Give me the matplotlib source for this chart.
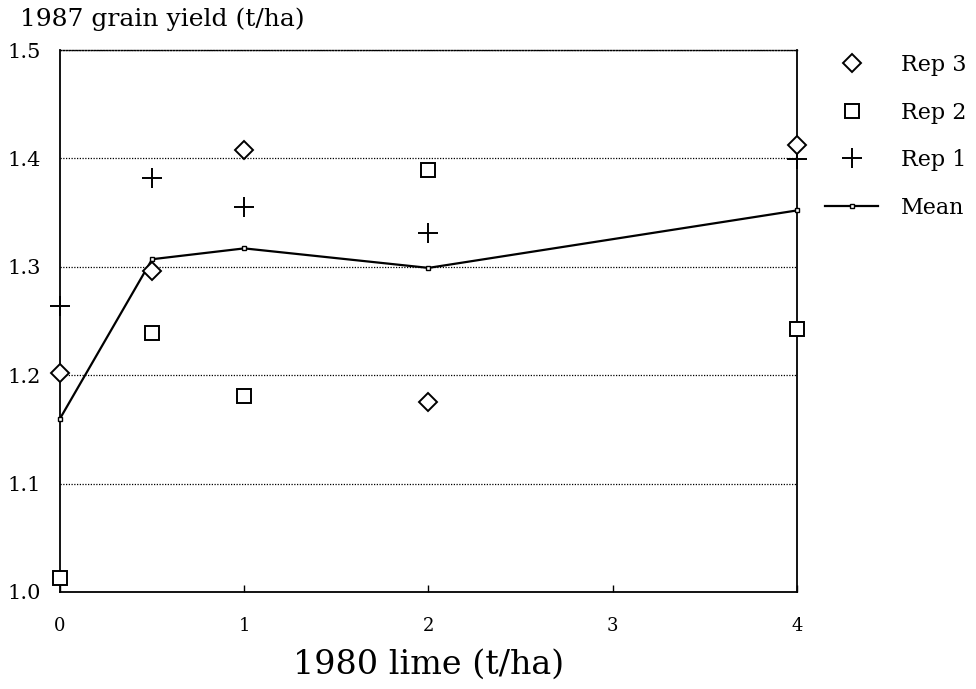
import matplotlib.pyplot as plt

lime = [0, 0.5, 1, 2, 4]
rep3 = [1.202, 1.296, 1.408, 1.175, 1.412]
rep2 = [1.013, 1.239, 1.181, 1.389, 1.243]
rep1 = [1.264, 1.382, 1.355, 1.331, 1.399]
mean = [1.160, 1.307, 1.317, 1.299, 1.352]

yticks = [1.0, 1.1, 1.2, 1.3, 1.4, 1.5]
xticks = [0, 1, 2, 3, 4]

plt.rcParams['font.family'] = ['DejaVu Serif']

fig = plt.figure(figsize=(9.76, 6.89), dpi=100)
ax = fig.add_axes([0.0615, 0.1408, 0.755, 0.7866])

# grid lines (dotted, like the scanned figure)
for y in yticks[1:]:
    ax.axhline(y, color='black', lw=0.9, ls=(0, (1, 1.2)), zorder=1)

ax.plot(lime, mean, color='black', lw=1.6, marker='s', ms=3,
        mfc='white', mec='black', mew=1, zorder=3, label='Mean', clip_on=False)
ax.plot(lime, rep1, ls='none', marker='+', ms=15, mew=1.4, color='black',
        zorder=4, label='Rep 1', clip_on=False)
ax.plot(lime, rep2, ls='none', marker='s', ms=10, mfc='white', mec='black',
        mew=1.4, zorder=4, label='Rep 2', clip_on=False)
ax.plot(lime, rep3, ls='none', marker='D', ms=9.5, mfc='white', mec='black',
        mew=1.4, zorder=4, label='Rep 3', clip_on=False)

ax.set_xlim(0, 4)
ax.set_ylim(1.0, 1.5)
ax.set_xticks(xticks)
ax.set_yticks(yticks)
ax.set_yticklabels([f'{v:.1f}' for v in yticks])
ax.tick_params(axis='x', direction='in', length=5, width=1, labelsize=13, pad=18)
ax.tick_params(axis='y', length=0, labelsize=15, pad=14)

for s in ['left', 'right', 'bottom']:
    ax.spines[s].set_linewidth(1.3)
ax.spines['top'].set_linestyle((0, (1, 1.2)))
ax.spines['top'].set_linewidth(1.0)

ax.set_xlabel('1980 lime (t/ha)', fontsize=24, labelpad=10)
fig.text(0.021, 0.972, '1987 grain yield (t/ha)', fontsize=18, va='center', ha='left')

h, l = ax.get_legend_handles_labels()
order = [3, 2, 1, 0]
fig.legend([h[i] for i in order], [l[i] for i in order], loc='upper left',
           bbox_to_anchor=(825 / 976, 1 - 54 / 689), frameon=False, fontsize=16,
           handlelength=2.4, labelspacing=1.15, handletextpad=1.0,
           borderpad=0, borderaxespad=0)

fig.savefig('out.png', dpi=100)
